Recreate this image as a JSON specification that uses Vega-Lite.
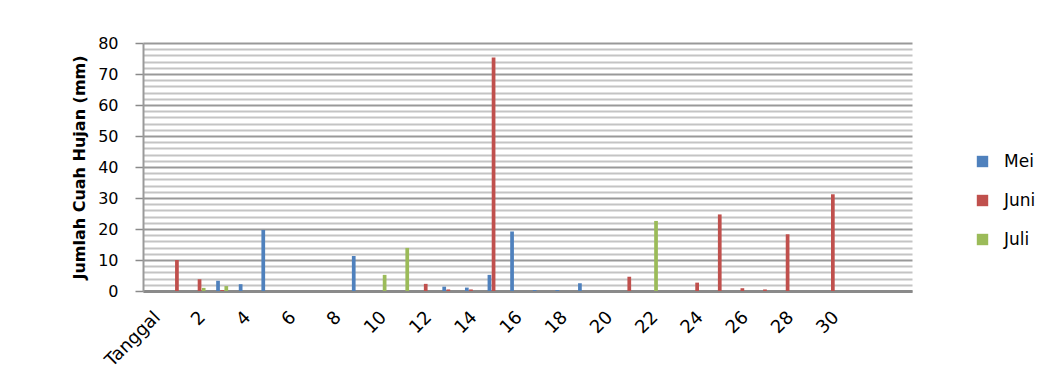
{
  "$schema": "https://vega.github.io/schema/vega-lite/v6.json",
  "width": 769,
  "height": 248,
  "autosize": {"type": "none"},
  "padding": {"left": 143, "top": 43, "right": 142, "bottom": 88},
  "background": "white",
  "config": {
    "view": {"stroke": null},
    "font": "DejaVu Sans",
    "axis": {"labelFont": "DejaVu Sans", "titleFont": "DejaVu Sans", "labelColor": "#000", "titleColor": "#000"}
  },
  "data": {
    "values": [
      {"tanggal": 1, "bulan": "Juni", "hujan": 10.0},
      {"tanggal": 2, "bulan": "Juni", "hujan": 3.8},
      {"tanggal": 2, "bulan": "Juli", "hujan": 1.0},
      {"tanggal": 3, "bulan": "Mei", "hujan": 3.3},
      {"tanggal": 3, "bulan": "Juni", "hujan": 0.3},
      {"tanggal": 3, "bulan": "Juli", "hujan": 1.6},
      {"tanggal": 4, "bulan": "Mei", "hujan": 2.2},
      {"tanggal": 5, "bulan": "Mei", "hujan": 19.7},
      {"tanggal": 9, "bulan": "Mei", "hujan": 11.3},
      {"tanggal": 10, "bulan": "Juli", "hujan": 5.2},
      {"tanggal": 11, "bulan": "Juli", "hujan": 13.9},
      {"tanggal": 12, "bulan": "Juni", "hujan": 2.3},
      {"tanggal": 13, "bulan": "Mei", "hujan": 1.4},
      {"tanggal": 13, "bulan": "Juni", "hujan": 0.5},
      {"tanggal": 14, "bulan": "Mei", "hujan": 1.1},
      {"tanggal": 14, "bulan": "Juni", "hujan": 0.5},
      {"tanggal": 15, "bulan": "Mei", "hujan": 5.2},
      {"tanggal": 15, "bulan": "Juni", "hujan": 75.3},
      {"tanggal": 16, "bulan": "Mei", "hujan": 19.2},
      {"tanggal": 17, "bulan": "Mei", "hujan": 0.3},
      {"tanggal": 18, "bulan": "Mei", "hujan": 0.3},
      {"tanggal": 19, "bulan": "Mei", "hujan": 2.5},
      {"tanggal": 21, "bulan": "Juni", "hujan": 4.6},
      {"tanggal": 22, "bulan": "Juli", "hujan": 22.6},
      {"tanggal": 24, "bulan": "Juni", "hujan": 2.7},
      {"tanggal": 25, "bulan": "Juni", "hujan": 24.7},
      {"tanggal": 26, "bulan": "Juni", "hujan": 0.9},
      {"tanggal": 27, "bulan": "Juni", "hujan": 0.5},
      {"tanggal": 28, "bulan": "Juni", "hujan": 18.3},
      {"tanggal": 30, "bulan": "Juni", "hujan": 31.2}
    ]
  },
  "resolve": {"axis": {"y": "independent"}},
  "layer": [
    {
      "mark": {"type": "bar", "opacity": 0},
      "encoding": {
        "x": {"field": "tanggal", "type": "ordinal",
              "scale": {"domain": [0,1,2,3,4,5,6,7,8,9,10,11,12,13,14,15,16,17,18,19,20,21,22,23,24,25,26,27,28,29,30,31,32,33], "paddingInner": 0.47, "paddingOuter": 0.235},
              "axis": {"title": null, "labelAngle": -45, "labelFontSize": 18, "labelPadding": 17, "labelOffset": -3, "ticks": false,
                       "labelExpr": "datum.value == 0 ? 'Tanggal' : ((datum.value % 2 == 0 && datum.value <= 30) ? '' + datum.value : '')",
                       "domainColor": "#8a8a8a", "domainWidth": 3, "labelOverlap": false}},
        "y": {"field": "hujan", "type": "quantitative",
              "scale": {"domain": [0, 80], "nice": false, "zero": true},
              "axis": {"orient": "right", "values": [2,4,6,8,12,14,16,18,22,24,26,28,32,34,36,38,42,44,46,48,52,54,56,58,62,64,66,68,72,74,76,78],
                       "grid": true, "gridColor": "#c4c4c4", "gridWidth": 2, "labels": false, "ticks": false, "domain": false, "title": null}}
      }
    },
    {
      "mark": {"type": "bar"},
      "encoding": {
        "x": {"field": "tanggal", "type": "ordinal",
              "scale": {"domain": [0,1,2,3,4,5,6,7,8,9,10,11,12,13,14,15,16,17,18,19,20,21,22,23,24,25,26,27,28,29,30,31,32,33], "paddingInner": 0.47, "paddingOuter": 0.235},
              "axis": {"title": null, "labelAngle": -45, "labelFontSize": 18, "labelPadding": 17, "labelOffset": -3, "ticks": false,
                       "labelExpr": "datum.value == 0 ? 'Tanggal' : ((datum.value % 2 == 0 && datum.value <= 30) ? '' + datum.value : '')",
                       "domainColor": "#8a8a8a", "domainWidth": 3, "labelOverlap": false}},
        "xOffset": {"field": "bulan", "type": "nominal", "sort": ["Mei", "Juni", "Juli"], "scale": {"domain": ["Mei", "Juni", "Juli"], "paddingInner": 0.1}},
        "y": {"field": "hujan", "type": "quantitative",
              "scale": {"domain": [0, 80], "nice": false, "zero": true},
              "axis": {"orient": "left", "values": [0,10,20,30,40,50,60,70,80], "grid": true, "gridColor": "#999999", "gridWidth": 2,
                       "tickSize": 8, "tickColor": "#8a8a8a", "tickWidth": 1.5, "domainColor": "#9a9a9a", "domainWidth": 2,
                       "labelFontSize": 16, "labelPadding": 17,
                       "title": "Jumlah Cuah Hujan (mm)", "titleFontSize": 16, "titleFontWeight": "bold", "titlePadding": 10}},
        "color": {"field": "bulan", "type": "nominal",
                  "scale": {"domain": ["Mei", "Juni", "Juli"], "range": ["#4F81BD", "#C0504D", "#9BBB59"]},
                  "legend": {"orient": "none", "legendX": 831, "legendY": 110, "title": null, "symbolType": "square", "symbolSize": 130,
                             "symbolStrokeWidth": 0, "labelFontSize": 17, "labelFont": "DejaVu Sans", "labelColor": "#000", "labelOffset": 13, "rowPadding": 21}}
      }
    }
  ]
}
